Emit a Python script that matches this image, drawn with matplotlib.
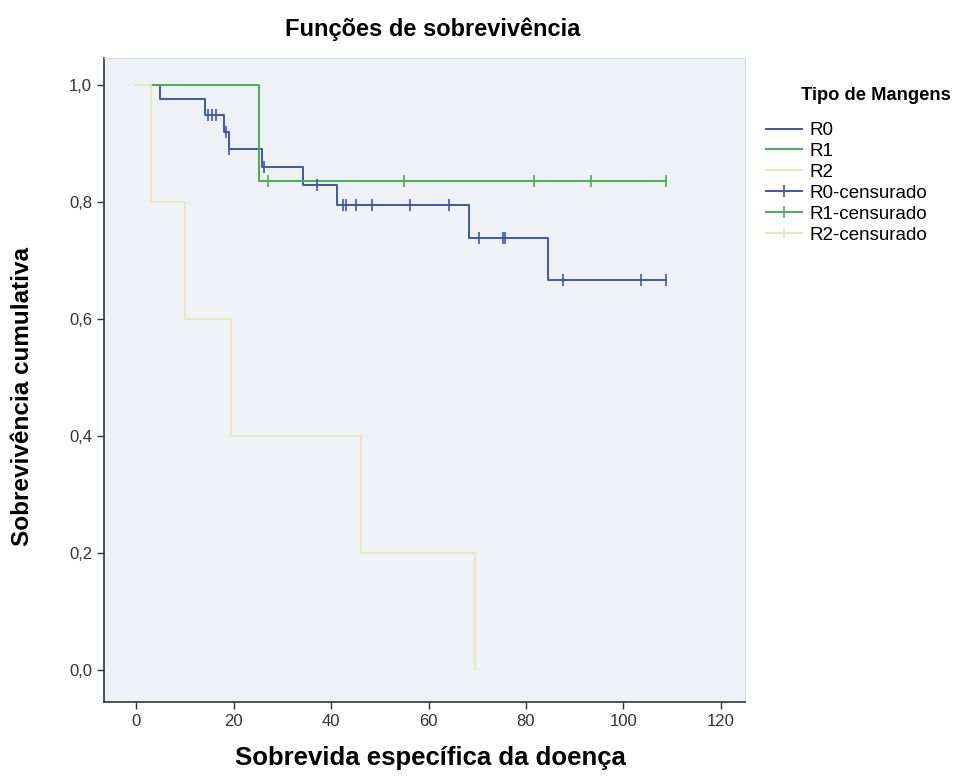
import matplotlib.pyplot as plt
from matplotlib.lines import Line2D
import numpy as np

# R0
r0_times = [0, 4.9, 14.2, 18.1, 19.0, 25.9, 34.2, 41.2, 68.3, 84.5]
r0_surv = [1.0, 0.976, 0.948, 0.920, 0.890, 0.859, 0.828, 0.794, 0.738, 0.666]
r0_end = 108.7
r0_cens = [14.8, 15.6, 16.4, 18.4, 19.0, 26.2, 37.2, 42.4, 43.1, 45.2, 48.4,
           56.3, 64.3, 70.4, 75.2, 75.6, 87.6, 103.6, 108.7]

# R1
r1_times = [0, 25.3]
r1_surv = [1.0, 0.835]
r1_end = 108.7
r1_cens = [27.0, 55.0, 81.6, 93.4, 108.7]

# R2
r2_times = [0, 3.0, 10.0, 19.4, 46.2, 69.5]
r2_surv = [1.0, 0.8, 0.6, 0.4, 0.2, 0.0]
r2_end = 69.5
r2_cens = []

groups = ["R0", "R1", "R2"]
colors = ["#3c56b5", "#45b04d", "#e9e7b8"]

xticks = [0, 20, 40, 60, 80, 100, 120]
yticks = [0.0, 0.2, 0.4, 0.6, 0.8, 1.0]

plt.rcParams['font.family'] = ['Liberation Sans', 'DejaVu Sans']

fig = plt.figure(figsize=(9.57, 7.76), dpi=100)
fig.patch.set_facecolor('white')
ax = fig.add_axes([0.1087, 0.0954, 0.670, 0.830])
ax.set_facecolor('#eef2f6')


def step_value(times, surv, t):
    i = np.searchsorted(times, t, side='right') - 1
    return surv[i]


data = [(r0_times, r0_surv, r0_end, r0_cens),
        (r1_times, r1_surv, r1_end, r1_cens),
        (r2_times, r2_surv, r2_end, r2_cens)]

for (t, s, end, cens), c in zip(data, colors):
    xs = list(t) + [end]
    ys = list(s) + [s[-1]]
    ax.step(xs, ys, where='post', color=c, lw=1.4, zorder=3)
    if cens:
        cy = [step_value(t, s, x) for x in cens]
        ax.plot(cens, cy, ls='none', marker='|', ms=9, mew=1.2, color=c, zorder=4)

ax.set_xlim(-6.6, 125)
ax.set_ylim(-0.055, 1.046)
ax.set_xticks(xticks)
ax.set_yticks(yticks)
ax.set_xticklabels([str(v) for v in xticks])
ax.set_yticklabels([f"{v:.1f}".replace('.', ',') for v in yticks])
ax.tick_params(direction='out', length=5, width=1, colors='#333333', labelsize=12)
ax.tick_params(axis='x', pad=4)

for side in ['top', 'right']:
    ax.spines[side].set_color('#d8dde3')
for side in ['left', 'bottom']:
    ax.spines[side].set_color('#333333')
    ax.spines[side].set_linewidth(1.2)

ax.set_title("Funções de sobrevivência", fontsize=17, fontweight='bold', pad=16, x=0.513)
ax.set_xlabel("Sobrevida específica da doença", fontsize=18.5, fontweight='bold',
              labelpad=12, x=0.509)
ax.set_ylabel("Sobrevivência cumulativa", fontsize=17.5, fontweight='bold',
              labelpad=25, y=0.475)

handles = [Line2D([], [], color=c, lw=1.4) for c in colors]
handles += [Line2D([], [], color=c, lw=1.4, marker='|', ms=9, mew=1.2) for c in colors]
labels = groups + [g + "-censurado" for g in groups]
fig.legend(handles, labels, loc='upper left', bbox_to_anchor=(0.783, 0.8645),
           frameon=False, fontsize=13.5, handlelength=1.9, handletextpad=0.4,
           labelspacing=0.2, borderpad=0.4)
fig.text(801 / 957, 1 - 96 / 776, "Tipo de Mangens", fontsize=13.2,
         fontweight='bold', ha='left', va='center')

fig.savefig("out.png", dpi=100)
